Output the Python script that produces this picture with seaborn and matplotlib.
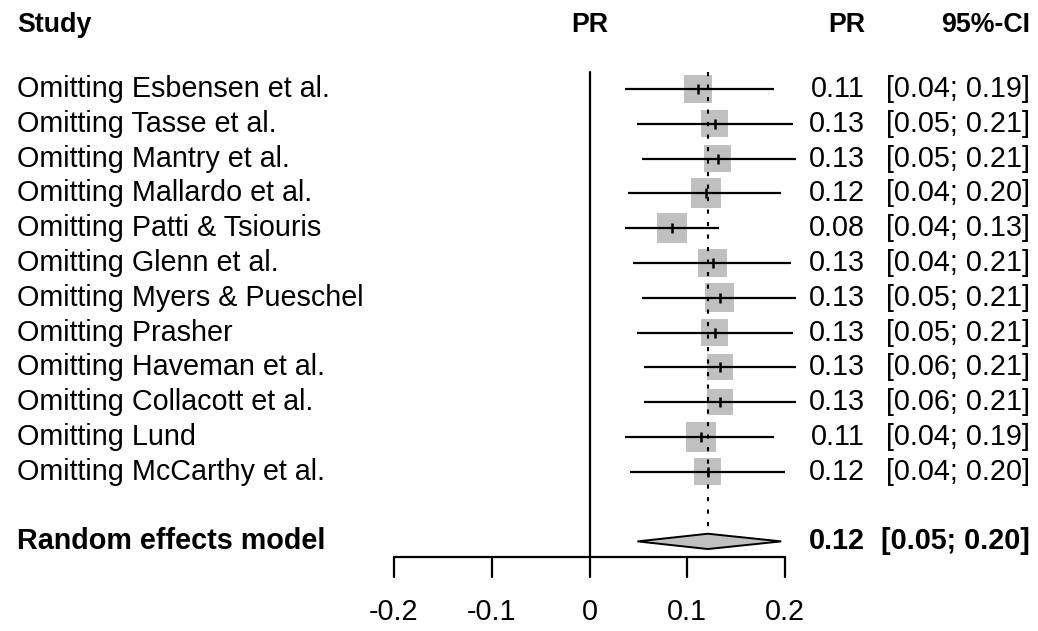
import matplotlib
matplotlib.use("Agg")
import matplotlib.pyplot as plt
import numpy as np
import pandas as pd
import seaborn as sns
from matplotlib import font_manager
from matplotlib.patches import Polygon

# ---- leave-one-out meta-analysis results (prevalence ratio) ----
studies = [
    "Omitting Esbensen et al.", "Omitting Tasse et al.", "Omitting Mantry et al.",
    "Omitting Mallardo et al.", "Omitting Patti & Tsiouris", "Omitting Glenn et al.",
    "Omitting Myers & Pueschel", "Omitting Prasher", "Omitting Haveman et al.",
    "Omitting Collacott et al.", "Omitting Lund", "Omitting McCarthy et al.",
]
pr = [0.111, 0.128, 0.131, 0.119, 0.084, 0.126, 0.133, 0.128, 0.133, 0.133, 0.114, 0.121]
ci_low = [0.036, 0.049, 0.054, 0.039, 0.036, 0.044, 0.054, 0.049, 0.056, 0.056, 0.036, 0.041]
ci_high = [0.189, 0.208, 0.211, 0.196, 0.132, 0.206, 0.211, 0.208, 0.211, 0.211, 0.189, 0.200]
weights = [7.3, 6.8, 6.8, 8.4, 8.4, 7.8, 7.8, 6.8, 6.3, 6.3, 8.4, 6.8]

pooled_label = "Random effects model"
pooled_pr = 0.121
pooled_low = 0.049
pooled_high = 0.196

xticks = [-0.2, -0.1, 0, 0.1, 0.2]
xtick_labels = ["-0.2", "-0.1", "0", "0.1", "0.2"]
headers = ["Study", "PR", "PR", "95%-CI"]

sns.set_theme(style="white")
plt.rcParams["font.family"] = ["Liberation Sans", "DejaVu Sans"]
plt.rcParams["text.color"] = "black"

installed = {f.name for f in font_manager.fontManager.ttflist}
if "Liberation Sans Narrow" in installed:
    head_family = ["Liberation Sans Narrow", "Liberation Sans"]
    head_size = 22
else:
    head_family = ["Liberation Sans"]
    head_size = 19.3

df = pd.DataFrame({
    "study": studies, "pr": pr, "lo": ci_low, "hi": ci_high, "w": weights,
})
df["row"] = np.arange(len(df))
pooled_row = len(df) + 1

fig = plt.figure(figsize=(10.38, 6.31), dpi=100)
ax = fig.add_axes([0, 0, 1, 1])
ax.set_xlim(-0.6028, 0.4586)
ax.set_ylim(15.575, -2.557)
ax.axis("off")

body = 20.7
lw = 1.6

# weight squares (area proportional to weight)
k = 55.0
sns.scatterplot(data=df, x="pr", y="row", size="w",
                sizes=(k * min(weights), k * max(weights)),
                size_norm=(min(weights), max(weights)),
                marker="s", color="#c0c0c0", linewidth=0, legend=False,
                ax=ax, zorder=1)

# confidence intervals and point estimates
ax.hlines(df["row"], df["lo"], df["hi"], color="black", lw=lw, zorder=2)
ax.plot(df["pr"], df["row"], linestyle="none", marker="|", ms=7, mew=1.8,
        color="black", zorder=3)

# pooled estimate diamond
dh = 0.22
diamond = Polygon([[pooled_low, pooled_row], [pooled_pr, pooled_row - dh],
                   [pooled_high, pooled_row], [pooled_pr, pooled_row + dh]],
                  closed=True, facecolor="#c0c0c0", edgecolor="black", lw=1.4, zorder=2)
ax.add_patch(diamond)

# line of no effect and pooled reference line
top = -0.49
axis_y = 13.45
tick_y = 14.02
ax.plot([0, 0], [top, axis_y], color="black", lw=lw, zorder=2)
ax.plot([pooled_pr, pooled_pr], [top, pooled_row - dh], color="black", lw=1.5,
        linestyle=(0, (2, 4)), zorder=1.5)

# x axis
ax.plot([xticks[0], xticks[-1]], [axis_y, axis_y], color="black", lw=lw)
for t, lab in zip(xticks, xtick_labels):
    ax.plot([t, t], [axis_y, tick_y], color="black", lw=lw)
    ax.text(t, 15.03, lab, ha="center", va="center", fontsize=body)

# text columns
x_study = -0.5854
x_est = 0.2817
x_ci = 0.4505
hy = -1.83
ax.text(x_study, hy, headers[0], ha="left", va="center", fontsize=head_size,
        fontweight="bold", family=head_family)
ax.text(0, hy, headers[1], ha="center", va="center", fontsize=head_size,
        fontweight="bold", family=head_family)
ax.text(x_est, hy, headers[2], ha="right", va="center", fontsize=head_size,
        fontweight="bold", family=head_family)
ax.text(x_ci, hy, headers[3], ha="right", va="center", fontsize=head_size,
        fontweight="bold", family=head_family)

for _, r in df.iterrows():
    ax.text(x_study, r["row"], r["study"], ha="left", va="center", fontsize=body)
    ax.text(x_est, r["row"], f"{r['pr']:.2f}", ha="right", va="center", fontsize=body)
    ax.text(x_ci, r["row"], f"[{r['lo']:.2f}; {r['hi']:.2f}]", ha="right",
            va="center", fontsize=body)

ax.text(x_study, pooled_row, pooled_label, ha="left", va="center", fontsize=body,
        fontweight="bold")
ax.text(x_est, pooled_row, f"{pooled_pr:.2f}", ha="right", va="center",
        fontsize=body, fontweight="bold")
ax.text(x_ci, pooled_row, f"[{pooled_low:.2f}; {pooled_high:.2f}]", ha="right",
        va="center", fontsize=body, fontweight="bold")

fig.savefig("out.png", dpi=100)
